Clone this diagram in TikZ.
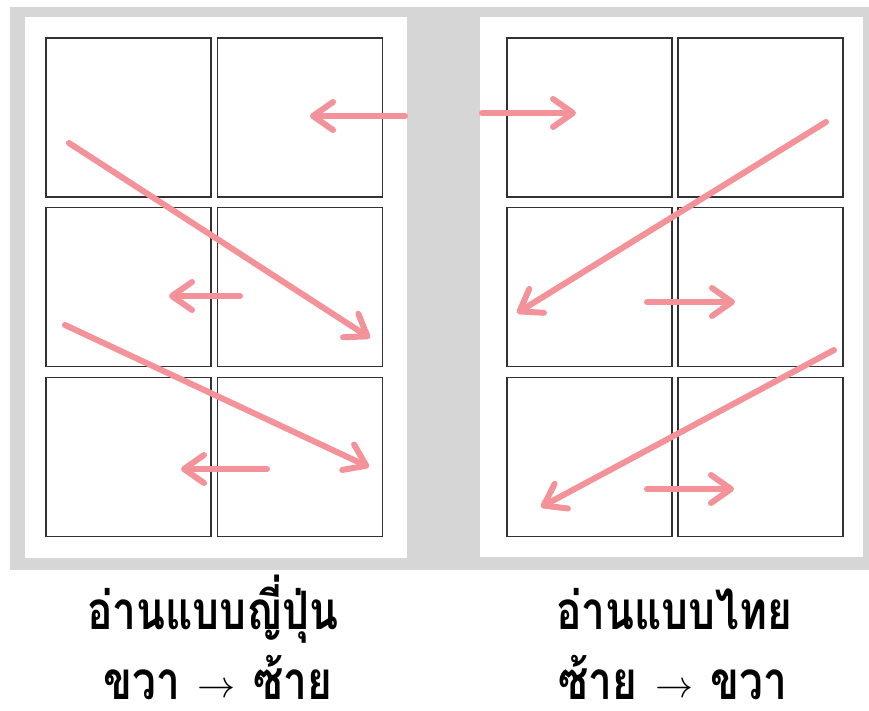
\RequirePackage{fix-cm}
\documentclass[tikz,border=0pt]{standalone}
\usepackage{fontspec}
\newfontfamily\thaifont[Script=Thai]{Loma}
\usetikzlibrary{arrows.meta}
\definecolor{pagegray}{RGB}{214,214,214}
\definecolor{arrowpink}{RGB}{244,146,154}
\definecolor{frameline}{RGB}{50,50,50}
\newcommand{\capt}[1]{\scalebox{0.8}[1]{#1}}
\newcommand{\thinarrow}{\raisebox{2pt}{\fontsize{38}{40}\selectfont$\rightarrow$}}
\tikzset{
  panel/.style={draw=frameline, line width=1.5pt, fill=white, inner sep=0pt, minimum width=165pt, minimum height=159pt},
  readarrow/.style={draw=arrowpink, line width=6pt, line cap=round, -{Straight Barb[round, length=20pt, width=28pt]}},
  caption/.style={font=\thaifont\bfseries\fontsize{53}{58}\selectfont, anchor=base, inner sep=0pt, text depth=0pt}
}
\begin{document}
\begin{tikzpicture}[x=1pt, y=-1pt]
\useasboundingbox (0,0) rectangle (869,711);
\fill[white] (0,0) rectangle (869,711);
\fill[pagegray] (10,7) rectangle (869,570);
\fill[white] (25,17) rectangle (407,558);
\fill[white] (480,17) rectangle (863,557);
% left page panels
\node[panel] (L11) at (128.5,117.5) {};
\node[panel] (L12) at (300,117.5) {};
\node[panel] (L21) at (128.5,287) {};
\node[panel] (L22) at (300,287) {};
\node[panel] (L31) at (128.5,457) {};
\node[panel] (L32) at (300,457) {};
% right page panels
\node[panel] (R11) at (589.5,117.5) {};
\node[panel] (R12) at (760.5,117.5) {};
\node[panel] (R21) at (589.5,287) {};
\node[panel] (R22) at (760.5,287) {};
\node[panel] (R31) at (589.5,457) {};
\node[panel] (R32) at (760.5,457) {};
% arrow end points
\coordinate (a1s) at (405,116); \coordinate (a1e) at (310,116);
\coordinate (a2s) at (482,113); \coordinate (a2e) at (576,113);
\coordinate (a3s) at (69,143);  \coordinate (a3e) at (370,338);
\coordinate (a4s) at (240,296); \coordinate (a4e) at (169,296);
\coordinate (a5s) at (65,325);  \coordinate (a5e) at (369,467);
\coordinate (a6s) at (267,469); \coordinate (a6e) at (181,469);
\coordinate (b1s) at (826,122); \coordinate (b1e) at (517,313);
\coordinate (b2s) at (647,302); \coordinate (b2e) at (735,302);
\coordinate (b3s) at (834,350); \coordinate (b3e) at (541,507);
\coordinate (b4s) at (647,489); \coordinate (b4e) at (734,489);
\draw[readarrow] (a1s) -- (a1e);
\draw[readarrow] (a2s) -- (a2e);
\draw[readarrow] (a3s) -- (a3e);
\draw[readarrow] (a4s) -- (a4e);
\draw[readarrow] (a5s) -- (a5e);
\draw[readarrow] (a6s) -- (a6e);
\draw[readarrow] (b1s) -- (b1e);
\draw[readarrow] (b2s) -- (b2e);
\draw[readarrow] (b3s) -- (b3e);
\draw[readarrow] (b4s) -- (b4e);
% captions
\node[caption] (capL1) at (213,629) {\capt{อ่านแบบญี่ปุ่น}};
\node[caption] (capL2) at (218,699) {\capt{ขวา} \thinarrow{} \capt{ซ้าย}};
\node[caption] (capR1) at (674,629) {\capt{อ่านแบบไทย}};
\node[caption] (capR2) at (673,699) {\capt{ซ้าย} \thinarrow{} \capt{ขวา}};
\end{tikzpicture}
\end{document}
